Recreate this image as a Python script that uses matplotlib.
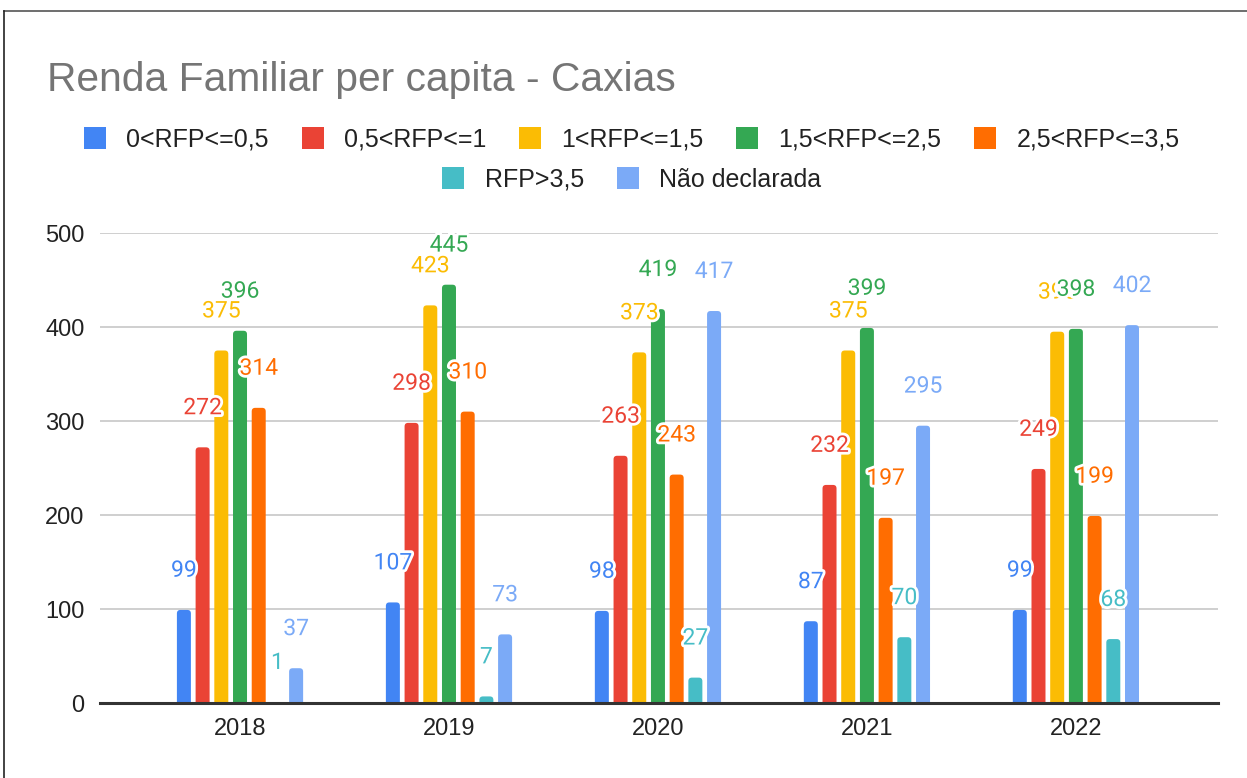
import matplotlib
matplotlib.use("Agg")
import matplotlib.pyplot as plt
import matplotlib.patheffects as pe
from matplotlib.lines import Line2D
from matplotlib.patches import FancyBboxPatch
import numpy as np

years = ["2018", "2019", "2020", "2021", "2022"]
series_names = ["0<RFP<=0,5", "0,5<RFP<=1", "1<RFP<=1,5", "1,5<RFP<=2,5",
                "2,5<RFP<=3,5", "RFP>3,5", "Não declarada"]
rfp_0_05 = [99, 107, 98, 87, 99]
rfp_05_1 = [272, 298, 263, 232, 249]
rfp_1_15 = [375, 423, 373, 375, 395]
rfp_15_25 = [396, 445, 419, 399, 398]
rfp_25_35 = [314, 310, 243, 197, 199]
rfp_gt_35 = [1, 7, 27, 70, 68]
nao_declarada = [37, 73, 417, 295, 402]
all_series = [rfp_0_05, rfp_05_1, rfp_1_15, rfp_15_25, rfp_25_35, rfp_gt_35, nao_declarada]
colors = ["#4285F4", "#EA4335", "#FBBC04", "#34A853", "#FF6D01", "#46BDC6", "#7BAAF7"]

W, H, DPI = 1247, 778, 100
fig = plt.figure(figsize=(W / DPI, H / DPI), dpi=DPI)
ax_left, ax_right, ax_bottom, ax_top = 100, 1218, 703, 233
ax = fig.add_axes([ax_left / W, (H - ax_bottom) / H, (ax_right - ax_left) / W,
                   (ax_bottom - ax_top) / H])

XLIM = (-0.67, 4.68)
YLIM = (0, 500)
ax.set_xlim(*XLIM)
ax.set_ylim(*YLIM)

x = np.arange(len(years))
step = 0.0895
bw = 0.067
n = len(all_series)

# data units per pixel, for rounded bar tops
xu_per_px = (XLIM[1] - XLIM[0]) / (ax_right - ax_left)
yu_per_px = (YLIM[1] - YLIM[0]) / (ax_bottom - ax_top)
radius_px = 3.5

for i, (vals, c) in enumerate(zip(all_series, colors)):
    xs = x + (i - (n - 1) / 2) * step
    bars = ax.bar(xs, vals, width=bw, color=c, zorder=3)
    for p in bars.patches:
        p.set_visible(False)
        ext = radius_px * yu_per_px
        rp = FancyBboxPatch((p.get_x(), p.get_y() - ext), p.get_width(),
                            p.get_height() + ext,
                            boxstyle=f"round,pad=0,rounding_size={radius_px * xu_per_px}",
                            mutation_aspect=yu_per_px / xu_per_px,
                            facecolor=c, edgecolor="none", zorder=3)
        ax.add_patch(rp)

for i, (vals, c) in enumerate(zip(all_series, colors)):
    xs = x + (i - (n - 1) / 2) * step
    for xv, v in zip(xs, vals):
        ax.annotate(str(v), (xv, v), xytext=(0, 28.5), textcoords="offset points",
                    ha="center", va="center", fontsize=16.5, color=c,
                    family=["Roboto", "DejaVu Sans"], zorder=5,
                    path_effects=[pe.withStroke(linewidth=4, foreground="white")])

ax.set_yticks([0, 100, 200, 300, 400, 500])
ax.set_xticks(x)
ax.set_xticklabels(years)
ax.grid(axis="y", color="#cccccc", linewidth=1.3, zorder=0)
for s in ["top", "right", "left"]:
    ax.spines[s].set_visible(False)
ax.spines["bottom"].set_color("#333333")
ax.spines["bottom"].set_linewidth(2.2)
ax.spines["bottom"].set_zorder(4)
ax.tick_params(axis="both", length=0, labelsize=17, labelcolor="#222222",
               labelfontfamily="Liberation Sans")
ax.tick_params(axis="y", pad=11)
ax.tick_params(axis="x", pad=11)

fig.text(47 / W, (H - 80) / H, "Renda Familiar per capita - Caxias", fontsize=29.3,
         color="#757575", family="Liberation Sans", va="center", ha="left")

handles = [Line2D([], [], marker="s", linestyle="", markersize=16.5, color=c,
                  markeredgewidth=0) for c in colors]
leg_kw = dict(frameon=False, handlelength=1.0, handletextpad=0.75, columnspacing=1.25,
              prop={"family": "Liberation Sans", "size": 18}, labelcolor="#222222",
              loc="center", borderaxespad=0, borderpad=0)
leg1 = fig.legend(handles[:5], series_names[:5], ncol=5,
                  bbox_to_anchor=(631 / W, (H - 140) / H), **leg_kw)
leg2 = fig.legend(handles[5:], series_names[5:], ncol=2,
                  bbox_to_anchor=(631 / W, (H - 180) / H), **leg_kw)

# screenshot frame (top and left edges)
fig.add_artist(Line2D([4 / W, 1.0], [(H - 11) / H, (H - 11) / H], color="#555555",
                      linewidth=1.2, transform=fig.transFigure))
fig.add_artist(Line2D([4 / W, 4 / W], [0, (H - 11) / H], color="#222222",
                      linewidth=1.2, transform=fig.transFigure))

fig.savefig("out.png", dpi=DPI)
